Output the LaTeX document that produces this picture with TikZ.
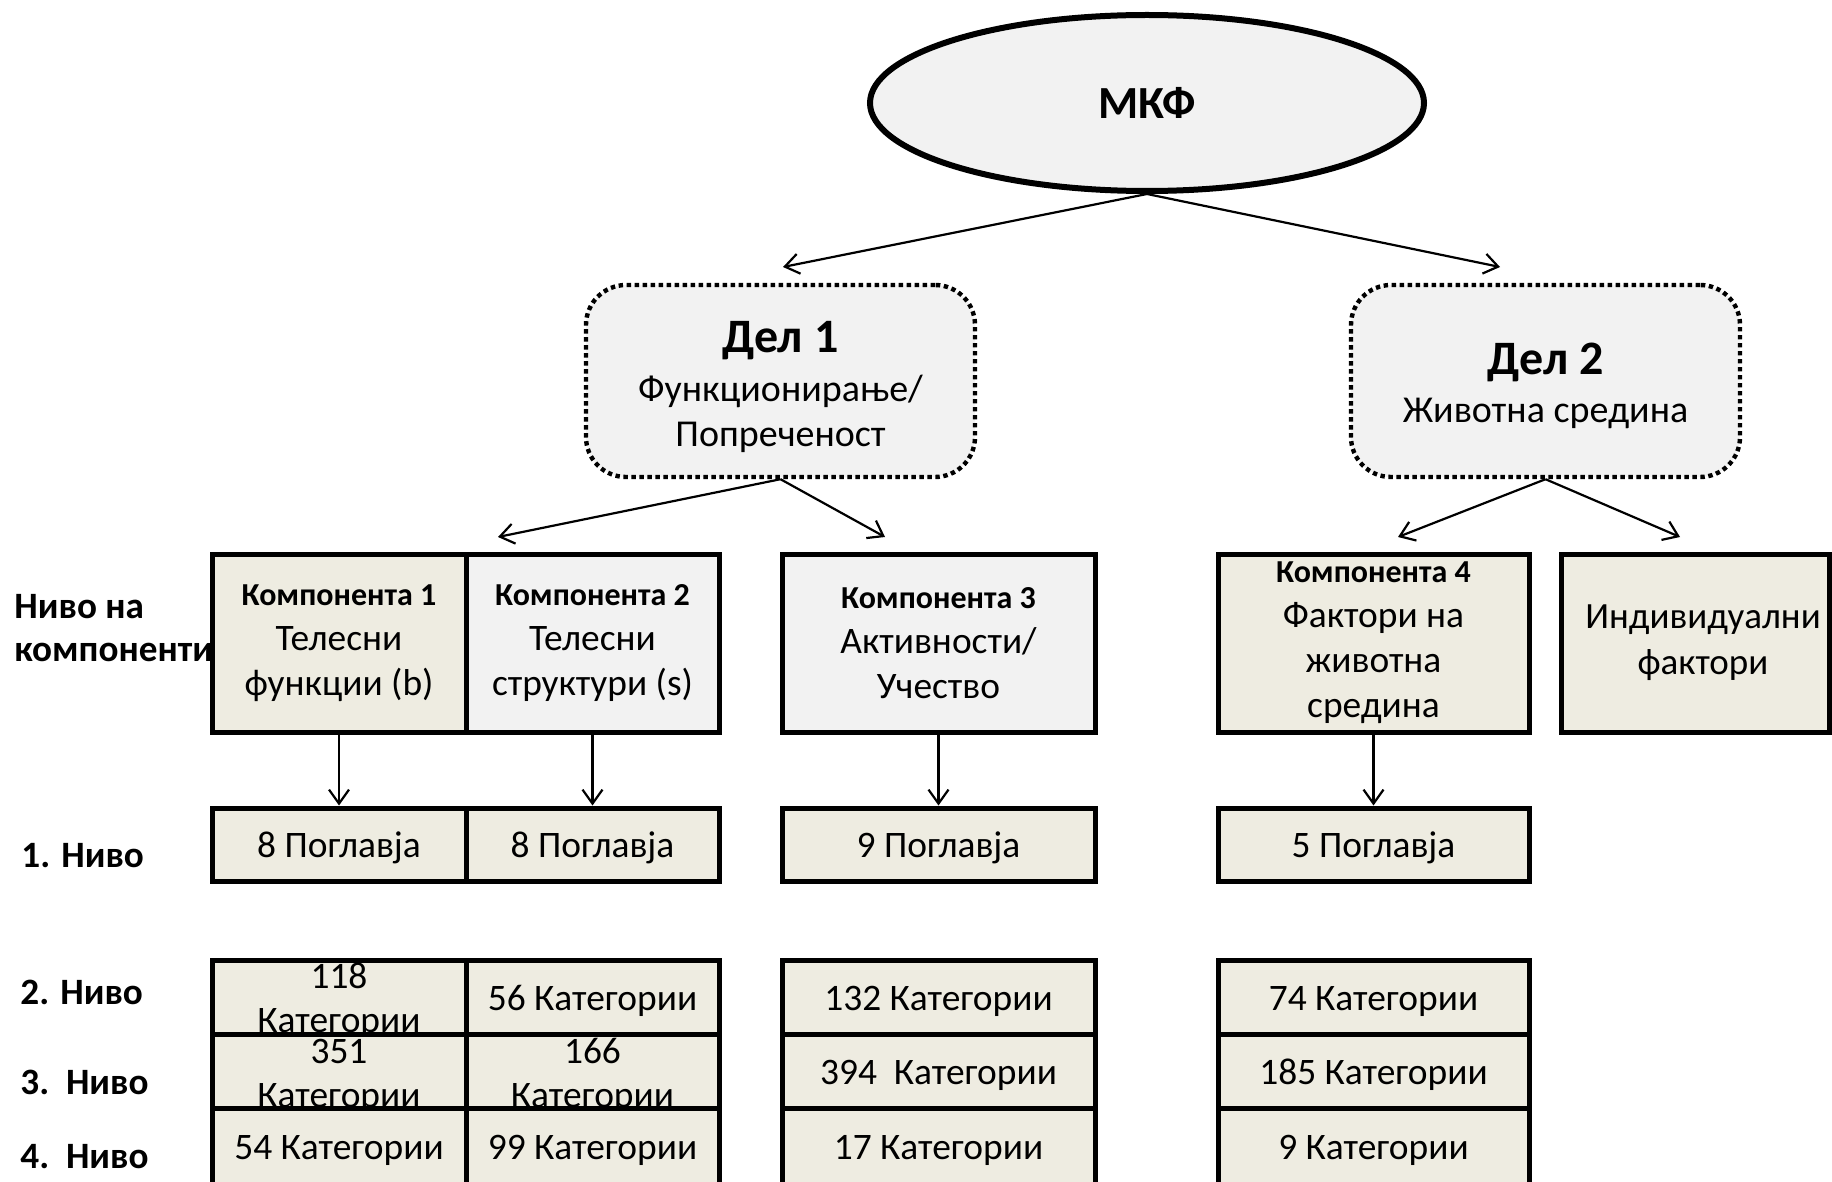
\documentclass[tikz,border=0pt]{standalone}
\usepackage{fontspec}
\setmainfont{Carlito}
\usepackage{xcolor}
\usetikzlibrary{shapes.geometric,arrows.meta}

\definecolor{tanbg}{HTML}{EEECE1}
\definecolor{greybg}{HTML}{F2F2F2}

\tikzset{
  mkfnode/.style={draw, ellipse, line width=3pt, fill=greybg, inner sep=0pt,
    minimum width=277pt, minimum height=88pt, font=\bfseries\fontsize{23}{28}\selectfont},
  delbox/.style={draw, rounded corners=20pt, line width=2.2pt, dash pattern=on 2.2pt off 1.8pt,
    fill=greybg, inner sep=0pt, minimum width=194.5pt, minimum height=96pt},
  deltext/.style={inner sep=0pt, align=center, font=\fontsize{19}{22.5}\selectfont},
  compbox/.style={draw, line width=2.5pt, inner sep=0pt, align=center,
    minimum height=89pt, font=\fontsize{18.7}{22.5}\selectfont},
  lvlbox/.style={draw, line width=2.5pt, fill=tanbg, inner sep=0pt, align=center,
    text height=13pt, text depth=0pt, font=\fontsize{18.7}{22.5}\selectfont},
  lvltext/.style={inner sep=0pt, align=center, font=\fontsize{18.7}{22}\selectfont},
  lvllabel/.style={anchor=west, inner sep=0pt, align=left, font=\bfseries\fontsize{18.6}{21.5}\selectfont},
  conn/.style={->, line width=1.1pt},
}
\newcommand{\komp}[1]{{\bfseries\fontsize{16}{19}\selectfont Компонента #1}}

\begin{document}
\begin{tikzpicture}[x=0.5pt,y=-0.5pt,>={Straight Barb[length=7pt,width=10pt]}]
\useasboundingbox (0,0) rectangle (1832,1182);

% top and the two parts
\node[mkfnode] (mkf) at (1147,103) {МКФ};
\node[delbox] (del1) at (780.5,381) {};
\node[deltext] (del1t) at (780.5,387) {{\bfseries\fontsize{24}{29}\selectfont Дел 1}\\[2pt]Функционирање/\\Попреченост};
\node[delbox] (del2) at (1545.5,381) {};
\node[deltext] (del2t) at (1545.5,386) {{\bfseries\fontsize{24}{29}\selectfont Дел 2}\\[1.5pt]Животна средина};

% level labels
\node[lvllabel] (lcomp) at (14,628) {Ниво на\\компоненти};
\node[lvllabel] (lniv1) at (21,856) {1. Ниво};
\node[lvllabel] (lniv2) at (20,992) {2. Ниво};
\node[lvllabel] (lniv3) at (20,1082) {3.\ \ Ниво};
\node[lvllabel] (lniv4) at (20,1157) {4.\ \ Ниво};

% components
\node[compbox, fill=tanbg, minimum width=127pt] (k1) at (339,643) {\komp{1}\\Телесни\\функции (b)};
\node[compbox, fill=greybg, minimum width=126.5pt] (k2) at (592.5,643) {\komp{2}\\Телесни\\структури (s)};
\node[compbox, fill=greybg, minimum width=156.5pt] (k3) at (938.5,643) {\komp{3}\\Активности/\\Учество};
\node[compbox, fill=tanbg, minimum width=155.5pt] (k4) at (1373.5,643) {\komp{4}\\Фактори на\\животна\\средина};
\node[compbox, fill=tanbg, minimum width=134pt] (ind) at (1695,643) {};
\node[lvltext, font=\fontsize{18.5}{23}\selectfont] (indt) at (1703,643) {Индивидуални\\фактори};

% 1. level
\node[lvlbox, minimum width=127pt, minimum height=36.5pt] (n1a) at (339,844.5) {8 Поглавја};
\node[lvlbox, minimum width=126.5pt, minimum height=36.5pt] (n1b) at (592.5,844.5) {8 Поглавја};
\node[lvlbox, minimum width=156.5pt, minimum height=36.5pt] (n1c) at (938.5,844.5) {9 Поглавја};
\node[lvlbox, minimum width=155.5pt, minimum height=36.5pt] (n1d) at (1373.5,844.5) {5 Поглавја};

% 2. level
\node[lvlbox, minimum width=127pt, minimum height=37pt] (n2a) at (339,997) {};
\node[lvltext] (t2a) at (339,1001) {118\\Категории};
\node[lvlbox, minimum width=126.5pt, minimum height=37pt] (n2b) at (592.5,997) {56 Категории};
\node[lvlbox, minimum width=156.5pt, minimum height=37pt] (n2c) at (938.5,997) {132 Категории};
\node[lvlbox, minimum width=155.5pt, minimum height=37pt] (n2d) at (1373.5,997) {74 Категории};

% 3. level
\node[lvlbox, minimum width=127pt, minimum height=37pt] (n3a) at (339,1071) {};
\node[lvltext] (t3a) at (339,1076) {351\\Категории};
\node[lvlbox, minimum width=126.5pt, minimum height=37pt] (n3b) at (592.5,1071) {};
\node[lvltext] (t3b) at (592.5,1076) {166\\Категории};
\node[lvlbox, minimum width=156.5pt, minimum height=37pt] (n3c) at (938.5,1071) {394\ \ Категории};
\node[lvlbox, minimum width=155.5pt, minimum height=37pt] (n3d) at (1373.5,1071) {185 Категории};

% 4. level
\node[lvlbox, minimum width=127pt, minimum height=38pt] (n4a) at (339,1146) {54 Категории};
\node[lvlbox, minimum width=126.5pt, minimum height=38pt] (n4b) at (592.5,1146) {99 Категории};
\node[lvlbox, minimum width=156.5pt, minimum height=38pt] (n4c) at (938.5,1146) {17 Категории};
\node[lvlbox, minimum width=155.5pt, minimum height=38pt] (n4d) at (1373.5,1146) {9 Категории};

% arrow tips
\coordinate (p1) at (783,267);
\coordinate (p2) at (1500,267);
\coordinate (c1) at (498,537);
\coordinate (c2) at (885,537);
\coordinate (c4) at (1398,537);
\coordinate (c5) at (1680,537);

\draw[conn] (mkf.south) -- (p1);
\draw[conn] (mkf.south) -- (p2);
\draw[conn] (del1.south) -- (c1);
\draw[conn] (del1.south) -- (c2);
\draw[conn] (del2.south) -- (c4);
\draw[conn] (del2.south) -- (c5);
\draw[conn] (k1.south) -- (n1a.north);
\draw[conn] (k2.south) -- (n1b.north);
\draw[conn] (k3.south) -- (n1c.north);
\draw[conn] (k4.south) -- (n1d.north);
\end{tikzpicture}
\end{document}
